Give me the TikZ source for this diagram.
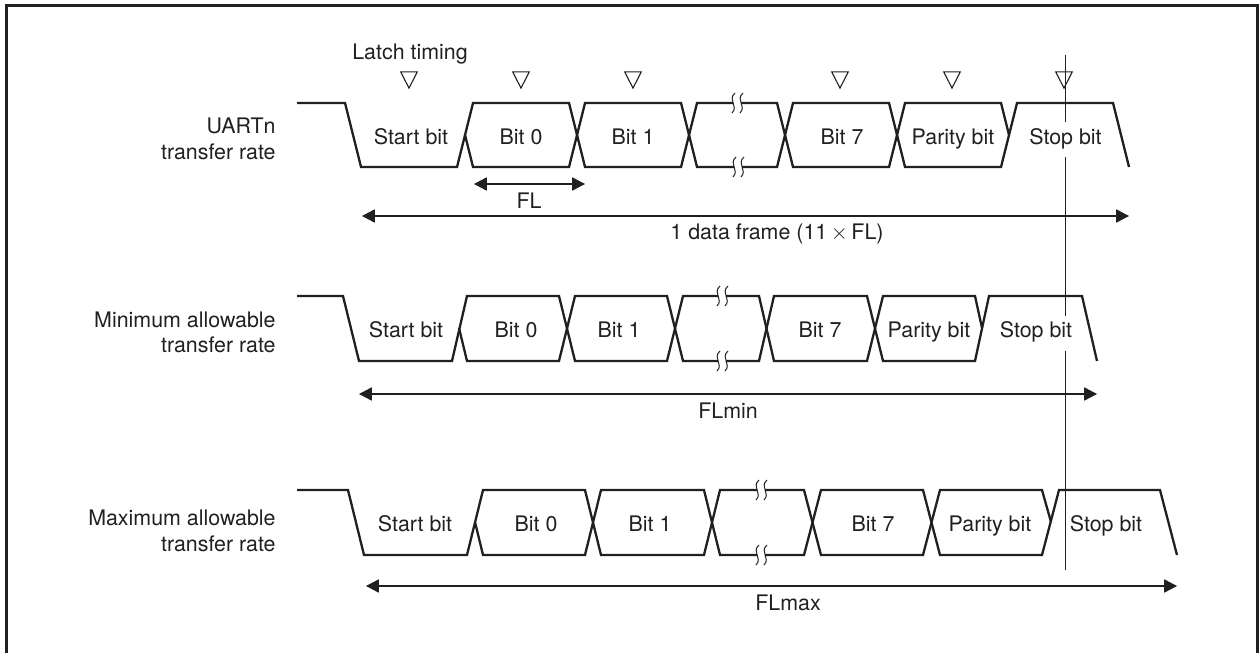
\documentclass[tikz,border=0pt]{standalone}
\usepackage{fontspec}
\setmainfont{TeX Gyre Heros}
\usepackage{xcolor}
\usetikzlibrary{arrows.meta,shapes.geometric}
\definecolor{ink}{HTML}{231F20}
\tikzset{
trace/.style={draw=ink, line width=1.15pt, line join=miter},
bitlabel/.style={anchor=base, inner sep=0pt, text=ink, font=\fontsize{10.7}{12.5}\selectfont},
stoplabel/.style={bitlabel, fill=white, inner xsep=1pt, text height=11pt, text depth=6.5pt},
rowlabel/.style={anchor=east, inner sep=0pt, align=right, text=ink, font=\fontsize{10.7}{12.8}\selectfont},
latch/.style={draw=ink, line width=0.55pt, isosceles triangle, isosceles triangle apex angle=54,
shape border rotate=270, minimum height=8.1pt, inner sep=0pt},
arrow/.style={{Triangle[length=6.4pt,width=6.6pt]}-{Triangle[length=6.4pt,width=6.6pt]}, draw=ink, line width=0.55pt},
breakmark/.pic={
\foreach \s in {-4,4}
\draw[ink, line width=0.5pt] (\s+2,-10) .. controls (\s-6,-3) and (\s+6,3) .. (\s-1,10);
}
}
\begin{document}
\begin{tikzpicture}[x=0.5pt,y=-0.5pt]
\useasboundingbox (0,0) rectangle (1260,653);
% frame
\draw[ink, line width=1.2pt] (6.3,653)--(6.3,5.5)--(1257.5,5.5)--(1257.5,653);
% sampling line
\coordinate (s1) at (1065,55);
\coordinate (s2) at (1065,570);
\draw[ink, line width=0.5pt] (s1)--(s2);
% UARTn
\draw[trace] (297,103)--(345,103)--(361,167)--(457,167)--(473,103)--(569,103)--(585,167)--(681,167)--(697,103)--(733,103);
\draw[trace] (465,135)--(473,167)--(569,167)--(585,103)--(681,103)--(697,167)--(734,167);
\draw[trace] (741,103)--(777,103)--(793,167)--(889,167)--(905,103)--(1001,103)--(1009,135);
\draw[trace] (742,167)--(777,167)--(793,103)--(889,103)--(905,167)--(1001,167)--(1017,103)--(1113,103)--(1129,167);
% minimum
\draw[trace] (297,296)--(343,296)--(359,361)--(452,361)--(467,296)--(559,296)--(575,361)--(667,361)--(683,296)--(718,296);
\draw[trace] (459,328)--(467,361)--(559,361)--(575,296)--(667,296)--(683,361)--(718,361);
\draw[trace] (726,296)--(759,296)--(774,361)--(867,361)--(883,296)--(975,296)--(982,328);
\draw[trace] (726,361)--(759,361)--(774,296)--(867,296)--(883,361)--(975,361)--(989,296)--(1082,296)--(1097,361);
% maximum
\draw[trace] (297,490)--(348,490)--(364,555)--(467,555)--(483,490)--(585,490)--(601,555)--(704,555)--(720,490)--(757,490);
\draw[trace] (475,522)--(483,555)--(585,555)--(601,490)--(704,490)--(720,555)--(757,555);
\draw[trace] (765,490)--(804,490)--(821,555)--(923,555)--(940,490)--(1042,490)--(1051,522);
\draw[trace] (765,555)--(804,555)--(821,490)--(923,490)--(940,555)--(1042,555)--(1059,490)--(1160,490)--(1177,555);
\foreach \x/\y in {737/103,738/167,722/296,722/361,761/490,761/555}
\pic at (\x,\y) {breakmark};
% bit names
\foreach \n/\x/\t in {sa/411/Start bit,ba/521/Bit 0,ca/633/Bit 1,ha/842/Bit 7,pa/953/Parity bit}
\node[bitlabel](\n) at (\x,144){\t};
\foreach \n/\x/\t in {sb/406/Start bit,bb/516/Bit 0,cb/619/Bit 1,hb/820/Bit 7,pb/929/Parity bit}
\node[bitlabel](\n) at (\x,337.5){\t};
\foreach \n/\x/\t in {sc/415/Start bit,bc/536/Bit 0,cc/650/Bit 1,hc/873/Bit 7,pc/990/Parity bit,tc/1106/Stop bit}
\node[bitlabel](\n) at (\x,531){\t};
\node[stoplabel](ta) at (1065.5,144){Stop bit};
\node[stoplabel](tb) at (1036,337.5){Stop bit};
% latch marks
\node[bitlabel](lt) at (410,60){Latch timing};
\foreach \n/\x in {l0/409,l1/521,l2/633,l3/840,l4/952,l5/1064}
\node[latch](\n) at (\x,77){};
% row names
\node[rowlabel](ra) at (276,139){UARTn\\transfer rate};
\node[rowlabel](rb) at (276,332.5){Minimum allowable\\transfer rate};
\node[rowlabel](rc) at (276,531){Maximum allowable\\transfer rate};
% spans
\coordinate (fl1) at (474,184);
\coordinate (fl2) at (585,184);
\coordinate (fa1) at (362,216);
\coordinate (fa2) at (1129,216);
\coordinate (fb1) at (359,394);
\coordinate (fb2) at (1097,394);
\coordinate (fc1) at (366,586);
\coordinate (fc2) at (1177,586);
\foreach \x/\y in {fl1/fl2,fa1/fa2,fb1/fb2,fc1/fc2}
\draw[arrow](\x)--(\y);
\node[bitlabel](fl) at (529,208){FL};
\node[bitlabel](fa) at (777,239){1 data frame (11\,$\times$\,FL)};
\node[bitlabel](fb) at (728,418){FLmin};
\node[bitlabel](fc) at (788,610){FLmax};
\end{tikzpicture}
\end{document}
